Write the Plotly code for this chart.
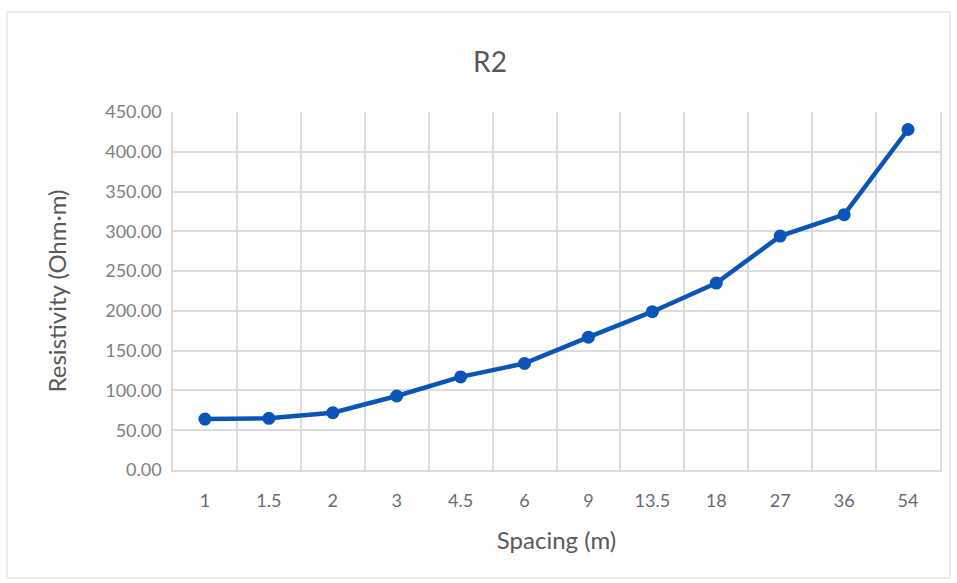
import plotly.graph_objects as go

# Electrode spacing (m) and apparent resistivity for sounding R2
spacing = ["1", "1.5", "2", "3", "4.5", "6", "9", "13.5", "18", "27", "36", "54"]
resistivity = [64.0, 65.0, 72.0, 93.0, 117.0, 134.0, 167.0, 199.0, 235.0, 294.0, 321.0, 428.0]

W, H = 957, 583
ML, MR, MT, MB = 173, 17, 112, 113

fig = go.Figure()
fig.add_trace(go.Scatter(
    x=spacing,
    y=resistivity,
    mode="lines+markers",
    line=dict(color="#0b55b8", width=4.5),
    marker=dict(color="#0b55b8", size=13),
    showlegend=False,
))

grid = "#dcdcdc"
font_family = "Lato, Carlito, sans-serif"
ytick_font = dict(family=font_family, size=18, color="#7f7f7f")
xtick_font = dict(family=font_family, size=18, color="#666b78")
title_font = dict(family=font_family, size=24, color="#595959")

fig.update_layout(
    width=W,
    height=H,
    margin=dict(l=ML, r=MR, t=MT, b=MB),
    paper_bgcolor="white",
    plot_bgcolor="white",
    title=dict(
        text="R2",
        x=490 / W,
        xanchor="center",
        y=1 - 62 / H,
        yanchor="middle",
        font=dict(family=font_family, size=28, color="#595959"),
    ),
    xaxis=dict(
        type="category",
        range=[-0.5, len(spacing) - 0.5],
        tickson="boundaries",
        automargin=False,
        showgrid=True,
        gridcolor=grid,
        gridwidth=1.5,
        ticks="",
        showline=True,
        linecolor=grid,
        linewidth=1.5,
        tickfont=xtick_font,
        ticklabelstandoff=14,
        title=dict(text="Spacing (m)", font=title_font, standoff=22),
        zeroline=False,
    ),
    yaxis=dict(
        range=[0, 450],
        dtick=50,
        tickformat=".2f",
        automargin=False,
        showgrid=True,
        gridcolor=grid,
        gridwidth=1.5,
        showline=True,
        linecolor=grid,
        linewidth=1.5,
        mirror=True,
        ticks="",
        zeroline=False,
        tickfont=ytick_font,
        ticklabelstandoff=6,
        title=dict(text="Resistivity (Ohm·m)", font=title_font, standoff=32),
    ),
    shapes=[
        dict(
            type="rect",
            xref="paper",
            yref="paper",
            x0=(7 - ML) / (W - ML - MR),
            x1=(950 - ML) / (W - ML - MR),
            y0=-(578 - (H - MB)) / (H - MT - MB),
            y1=1 + (MT - 12) / (H - MT - MB),
            line=dict(color="#e6e6e6", width=1.5),
            layer="below",
        )
    ],
)

fig.write_html("out.html")
